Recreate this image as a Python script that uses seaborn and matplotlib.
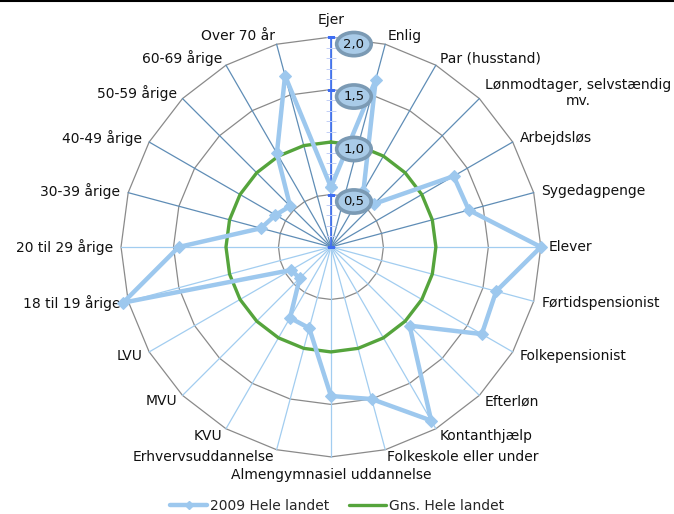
import numpy as np
import pandas as pd
import matplotlib
matplotlib.use("Agg")
import matplotlib.pyplot as plt
from matplotlib.lines import Line2D
import seaborn as sns

# -----------------------------
# DATA
# -----------------------------
categories = [
    "Ejer", "Enlig", "Par (husstand)", "Lønmodtager, selvstændig\nmv.",
    "Arbejdsløs", "Sygedagpenge", "Elever", "Førtidspensionist",
    "Folkepensionist", "Efterløn", "Kontanthjælp", "Folkeskole eller under",
    "Almengymnasiel uddannelse", "Erhvervsuddannelse", "KVU", "MVU", "LVU",
    "18 til 19 årige", "20 til 29 årige", "30-39 årige", "40-49 årige",
    "50-59 årige", "60-69 årige", "Over 70 år",
]
hele_landet_2009 = [
    0.57, 1.65, 0.62, 0.58, 1.35, 1.36, 2.00, 1.63,
    1.66, 1.06, 1.91, 1.50, 1.42, 0.80, 0.78, 0.42,
    0.44, 2.05, 1.45, 0.69, 0.61, 0.55, 1.03, 1.69,
]
gns_hele_landet = [
    1.0, 1.0, 1.0, 1.0, 1.0, 1.0, 1.0, 1.0,
    1.0, 1.0, 1.0, 1.0, 1.0, 1.0, 1.0, 1.0,
    1.0, 1.0, 1.0, 1.0, 1.0, 1.0, 1.0, 1.0,
]
ring_values = [0.5, 1.0, 1.5, 2.0]
ring_labels = ["0,5", "1,0", "1,5", "2,0"]
series_names = ["2009 Hele landet", "Gns. Hele landet"]

# -----------------------------
# STYLE
# -----------------------------
sns.set_style("white")
plt.rcParams["font.family"] = ["DejaVu Sans"]

BLUE = "#9DC8EE"
GREEN = "#55A43C"
RING = "#8A8A8A"
SPOKE_DARK = "#5F8DB6"
SPOKE_LIGHT = "#A2CDF0"
AXIS_BLUE = "#3F6EF2"

n = len(categories)
theta = np.deg2rad(np.arange(n) * 360.0 / n)
theta_closed = np.append(theta, theta[0] + 2 * np.pi)

df = pd.DataFrame({
    "theta": theta_closed,
    "v2009": hele_landet_2009 + hele_landet_2009[:1],
    "gns": gns_hele_landet + gns_hele_landet[:1],
})

fig = plt.figure(figsize=(6.74, 5.14), dpi=100)
ax = fig.add_axes([0.164, 0.0905, 0.654, 0.858], projection="polar")
ax.set_theta_zero_location("N")
ax.set_theta_direction(-1)
ax.set_ylim(0, 2.1)
ax.grid(False)
ax.set_xticks([])
ax.set_yticks([])
ax.spines["polar"].set_visible(False)
ax.patch.set_alpha(0)

# polygon rings
for r in ring_values:
    ax.plot(theta_closed, [r] * len(theta_closed), color=RING, lw=0.9, zorder=1)

# spokes
for t in theta:
    clr = SPOKE_DARK if np.cos(t) > 0.01 else SPOKE_LIGHT
    ax.plot([t, t], [0, ring_values[-1]], color=clr, lw=0.9, zorder=1)

# value axis
ax.plot([0, 0], [0, ring_values[-1]], color=AXIS_BLUE, lw=1.2, zorder=2)
minor = np.arange(0, 2.01, 0.1)
ax.plot(np.zeros(len(minor)), minor, ls="none", marker="_", ms=7,
        mew=0.6, color="#C3D0F7", zorder=2)
ax.plot(np.zeros(len(ring_values) + 1), [0] + ring_values, ls="none",
        marker="_", ms=6, mew=0.8, color=AXIS_BLUE, zorder=2)

# series
sns.lineplot(data=df, x="theta", y="gns", sort=False, estimator=None,
             color=GREEN, lw=2.4, ax=ax, zorder=3)
sns.lineplot(data=df, x="theta", y="v2009", sort=False, estimator=None,
             color=BLUE, lw=3.2, marker="D", markersize=6.5,
             markeredgecolor=BLUE, ax=ax, zorder=4, clip_on=False)
ax.set_xlabel("")
ax.set_ylabel("")

# ring labels in bubbles
for v, lab in zip(ring_values, ring_labels):
    ax.annotate(lab, xy=(0, v), xytext=(23, -7), textcoords="offset pixels",
                ha="center", va="center", fontsize=9.5, color="#111111",
                zorder=6,
                bbox=dict(boxstyle="ellipse,pad=0.13", fc="#A9CBE8",
                          ec="#7B9AB4", lw=2.6))

# category labels
for t, lab in zip(theta, categories):
    s, c = np.sin(t), np.cos(t)
    dx, dy = 8 * s, 8 * c
    if abs(s) < 0.01:
        ha = "center"
    elif s > 0:
        ha = "left"
    else:
        ha = "right"
    if lab == "Ejer":
        dy = 17
    if lab == "Almengymnasiel uddannelse":
        dy = -18
    ax.annotate(lab, xy=(t, ring_values[-1]), xytext=(dx, dy),
                textcoords="offset pixels", ha=ha, va="center",
                multialignment="center", fontsize=10, color="#111111",
                annotation_clip=False)

# legend
handles = [
    Line2D([], [], color=BLUE, lw=3.2, marker="D", markersize=4),
    Line2D([], [], color=GREEN, lw=2.4),
]
fig.legend(handles, series_names, loc="lower center",
           bbox_to_anchor=(0.5, -0.022), ncol=2, frameon=False,
           fontsize=10, handlelength=2.7, columnspacing=1.4,
           handletextpad=0.2)

# top border line
fig.add_artist(Line2D([0, 1], [0.999, 0.999], color="black", lw=1.5,
                      transform=fig.transFigure))

fig.savefig("out.png", dpi=100)
